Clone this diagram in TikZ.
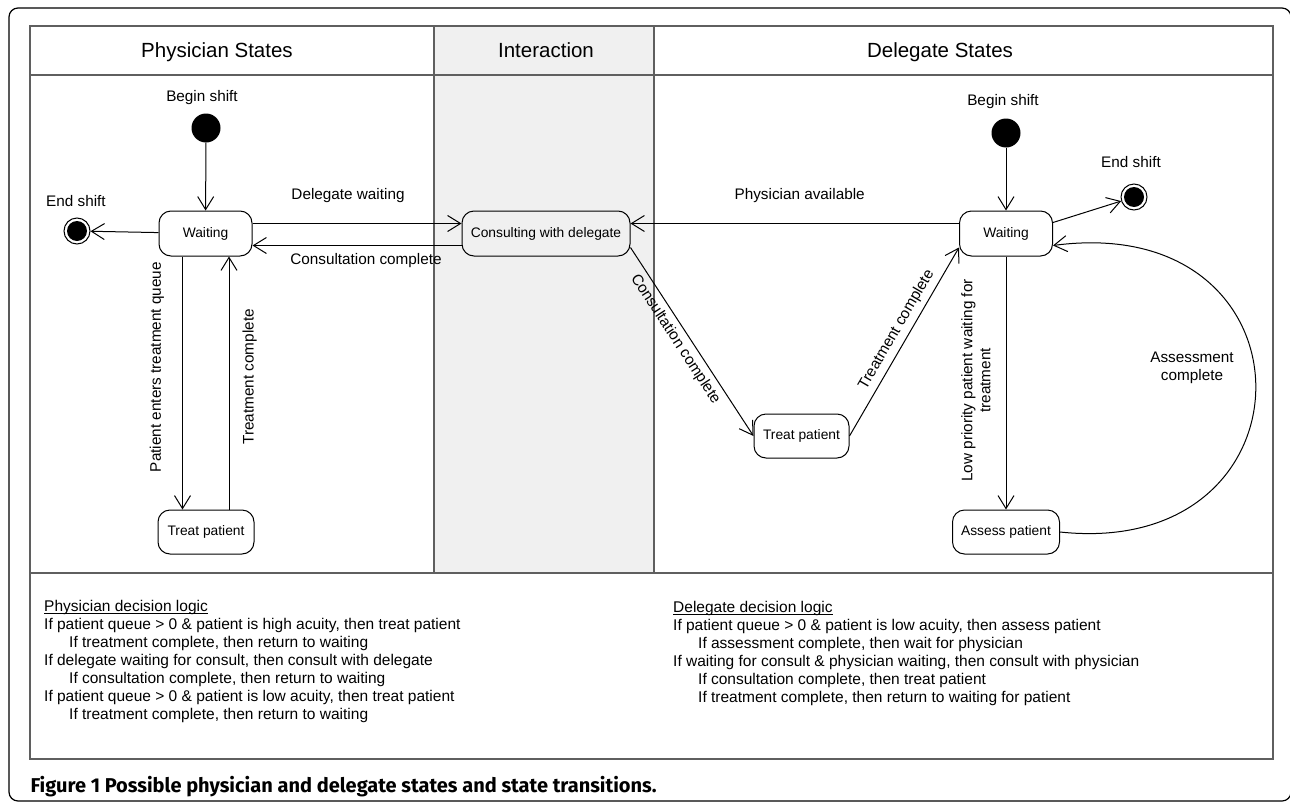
\documentclass[tikz,border=0pt]{standalone}
\usepackage{fontspec}
\setmainfont{Liberation Sans}
\newfontfamily\capfont{Fira Sans}
\usetikzlibrary{arrows.meta,positioning}
\definecolor{lanegray}{RGB}{240,240,240}
\definecolor{rulegray}{RGB}{95,95,95}
\tikzset{
    state/.style={draw,line width=1pt,rounded corners=12pt,minimum height=45pt,inner sep=0pt,font=\fontsize{13.8}{16}\selectfont},
    entry/.style={circle,fill=black,minimum size=29pt,inner sep=0pt},
    exit/.style={circle,draw,line width=1pt,fill=white,minimum size=26pt,inner sep=0pt,path picture={\fill[black] (path picture bounding box.center) circle (10pt);}},
    trans/.style={-{Straight Barb[length=13pt,width=16pt]},line width=1pt},
    lbl/.style={inner sep=0pt,font=\fontsize{15.3}{18}\selectfont},
    lane/.style={draw=rulegray,line width=1.6pt}
}
\newcommand\logichead[1]{\setbox0\hbox{#1}\rlap{\rule[-2.5pt]{\wd0}{0.8pt}}\box0}
\def\xleft{30}
\def\xright{1273}
\def\xia{434}
\def\xib{654}
\def\ytop{26}
\def\yhead{75}
\def\ymid{573}
\def\ybot{759}

\begin{document}
\begin{tikzpicture}[x=1pt,y=-1pt]
  \useasboundingbox (0,0) rectangle (1290,803);

  % Frame and lanes
  \draw[line width=1.2pt,rounded corners=9pt] (9,8) rectangle (1291,801);
  \fill[lanegray] (\xia,\ytop) rectangle (\xib,\ymid);
  \draw[lane] (\xleft,\ytop) rectangle (\xright,\ybot);
  \draw[lane] (\xleft,\yhead) -- (\xright,\yhead) (\xleft,\ymid) -- (\xright,\ymid);
  \draw[lane] (\xia,\ytop) -- (\xia,\ymid) (\xib,\ytop) -- (\xib,\ymid);
  \node[anchor=base,font=\fontsize{20.5}{24}\selectfont] (hphys) at (217,57) {Physician States};
  \node[anchor=base,font=\fontsize{20.5}{24}\selectfont] (hinter) at (546,57) {Interaction};
  \node[anchor=base,font=\fontsize{20.5}{24}\selectfont] (hdeleg) at (940,57) {Delegate States};

  % States
  \node[entry] (pbegin) at (206,128) {};
  \node[lbl,above=8pt of pbegin,xshift=-4pt] {Begin shift};
  \node[exit] (pend) at (77,231) {};
  \node[lbl,above=11pt of pend,xshift=-1pt] {End shift};
  \node[state,minimum width=93pt] (pwait) at (205.5,233.5) {Waiting};
  \node[state,minimum width=96pt,minimum height=44pt] (ptreat) at (206,532) {Treat patient};
  \node[state,minimum width=168pt] (consult) at (546,233.5) {Consulting with delegate};
  \node[entry] (dbegin) at (1006,133) {};
  \node[lbl,above=9pt of dbegin,xshift=-3pt] {Begin shift};
  \node[exit] (dend) at (1134,197) {};
  \node[lbl,above=16pt of dend,xshift=-3pt] {End shift};
  \node[state,minimum width=93pt] (dwait) at (1006,233.5) {Waiting};
  \node[state,minimum width=95pt,minimum height=44pt] (dtreat) at (801.5,436) {Treat patient};
  \node[state,minimum width=107pt,minimum height=44pt] (dassess) at (1006,532) {Assess patient};

  % Physician transitions
  \draw[trans] (pbegin) -- (pwait);
  \draw[trans] (pwait) -- (pend);
  \draw[trans] ([yshift=10pt]pwait.east) -- ([yshift=10pt]consult.west) node[lbl,pos=0.457,above=20pt] {Delegate waiting};
  \draw[trans] ([yshift=-12pt]consult.west) -- ([yshift=-12pt]pwait.east) node[lbl,pos=0.457,below=7pt] {Consultation complete};
  \draw[trans] ([xshift=-23pt]pwait.south) -- ([xshift=-23pt]pwait.south |- ptreat.north) node[lbl,pos=0.437,xshift=-18pt,rotate=90,anchor=south] {Patient enters treatment queue};
  \draw[trans] ([xshift=23pt]ptreat.north) -- ([xshift=23pt]ptreat.north |- pwait.south) node[lbl,pos=0.524,xshift=13pt,rotate=90,anchor=north] {Treatment complete};

  % Delegate transitions
  \draw[trans] (dbegin) -- (dwait);
  \draw[trans] ([yshift=11pt]dwait.east) -- (dend);
  \draw[trans] ([yshift=10pt]dwait.west) -- ([yshift=10pt]consult.east) node[lbl,pos=0.485,above=20pt] {Physician available};
  \draw[trans] ([yshift=-14pt]consult.east) -- (dtreat.west) node[lbl,pos=0.45,sloped,below=5pt] {Consultation complete};
  \draw[trans] (dtreat.east) -- ([yshift=-14pt]dwait.west) node[lbl,pos=0.53,sloped,above=5pt] {Treatment complete};
  \draw[trans] (dwait) -- (dassess) node[lbl,pos=0.49,xshift=-15pt,rotate=90,anchor=south,align=center] {Low priority patient waiting for\\treatment};
  \draw[trans] (dassess.east) .. controls (1322,560) and (1322,210) .. ([yshift=-12pt]dwait.east);
  \node[lbl,align=center] (assessed) at (1192,368) {Assessment\\complete};

  % Decision logic
  \node[lbl,anchor=north west,align=left,font=\fontsize{15.5}{18}\selectfont] (plogic) at (44,600) {\logichead{Physician decision logic}\\
    If patient queue > 0 \& patient is high acuity, then treat patient\\
    \hspace*{25pt}If treatment complete, then return to waiting\\
    If delegate waiting for consult, then consult with delegate\\
    \hspace*{25pt}If consultation complete, then return to waiting\\
    If patient queue > 0 \& patient is low acuity, then treat patient\\
    \hspace*{25pt}If treatment complete, then return to waiting};
  \node[lbl,anchor=north west,align=left,font=\fontsize{15.5}{18}\selectfont] (dlogic) at (673,601) {\logichead{Delegate decision logic}\\
    If patient queue > 0 \& patient is low acuity, then assess patient\\
    \hspace*{25pt}If assessment complete, then wait for physician\\
    If waiting for consult \& physician waiting, then consult with physician\\
    \hspace*{25pt}If consultation complete, then treat patient\\
    \hspace*{25pt}If treatment complete, then return to waiting for patient};

  % Caption
  \node[anchor=base west,font=\capfont\bfseries\fontsize{20}{24}\selectfont] (caption) at (27,792) {Figure 1 Possible physician and delegate states and state transitions.};
\end{tikzpicture}
\end{document}
